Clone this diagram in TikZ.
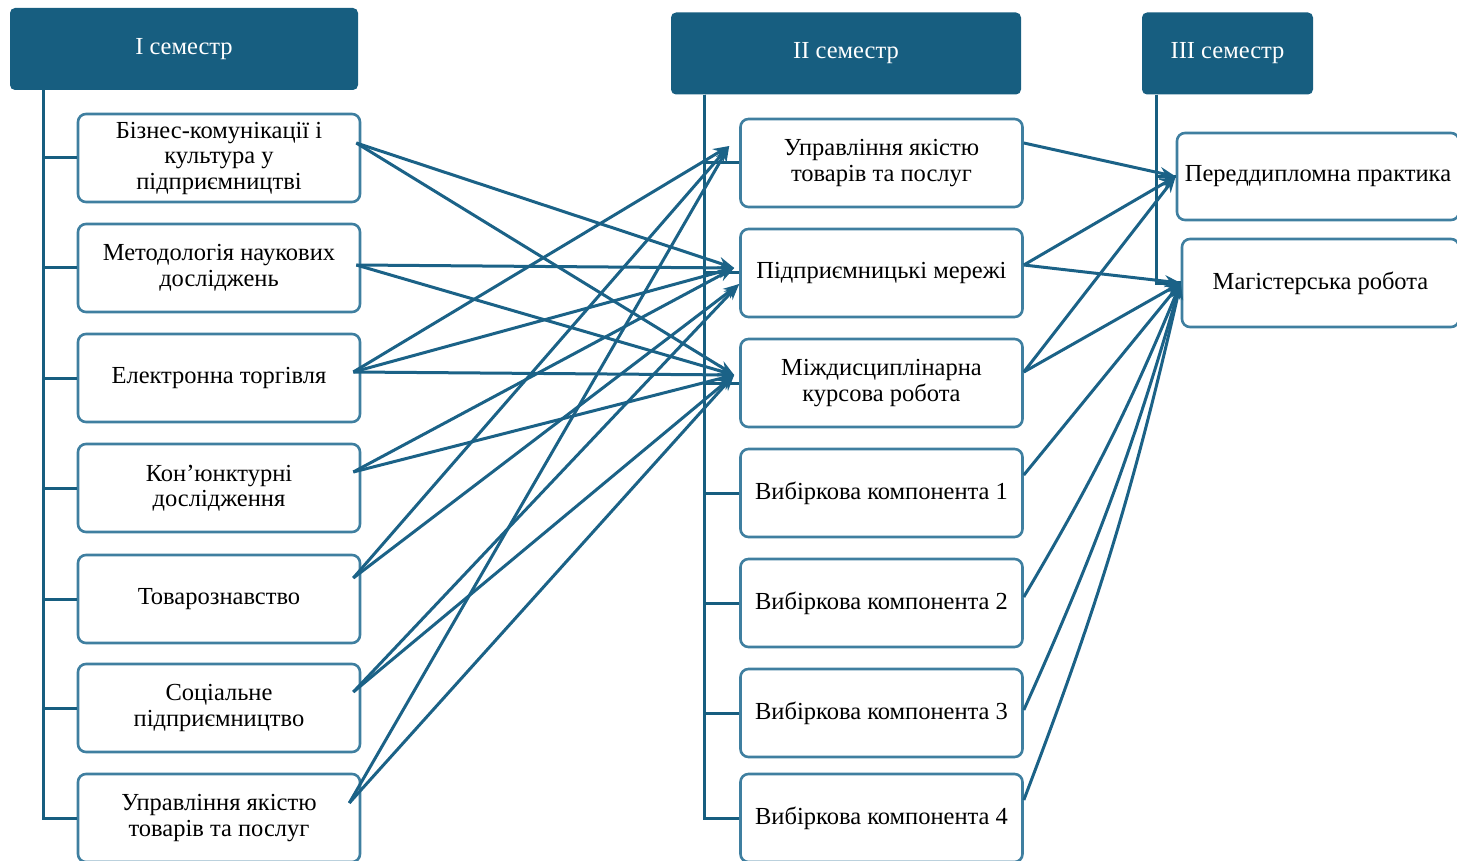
\documentclass[tikz,border=0pt]{standalone}
\usepackage{fontspec}
\setmainfont{Liberation Serif}
\usepackage{tikz}
\usepackage{xcolor}
\usetikzlibrary{positioning, arrows.meta}

\definecolor{semblue}{HTML}{175E80}
\definecolor{boxblue}{HTML}{3F7FA0}
\definecolor{linkblue}{HTML}{1B6287}

\begin{document}
\begin{tikzpicture}[x=1pt, y=-1pt,
        head/.style={rectangle, rounded corners=5pt, fill=semblue, text=white, font=\fontsize{24.5}{26}\selectfont, minimum height=82pt, inner sep=0pt},
        subj/.style={rectangle, rounded corners=8pt, draw=boxblue, line width=2.6pt, fill=white, align=center, font=\fontsize{24.5}{25.5}\selectfont, minimum width=282pt, minimum height=88pt, inner sep=0pt},
        tree/.style={draw=semblue, line width=3pt},
        link/.style={draw=linkblue, line width=3pt, -{Stealth[length=16pt, width=12pt]}}]
            \useasboundingbox (0, 0) rectangle (1457, 861);

            % semester headers
            \node[head, minimum width=348pt] (h1) at (184, 49) {І семестр};
            \node[head, minimum width=350pt] (h2) at (846, 53.5) {ІІ семестр};
            \node[head, minimum width=171pt] (h3) at (1227.5, 53.5) {ІІІ семестр};

            % first semester
            \node[subj] (l1) at (219, 158) {Бізнес-комунікації і\\культура у\\підприємництві};
            \node[subj] (l2) at (219, 268) {Методологія наукових\\досліджень};
            \node[subj] (l3) at (219, 378) {Електронна торгівля};
            \node[subj] (l4) at (219, 488) {Кон’юнктурні\\дослідження};
            \node[subj] (l5) at (219, 599) {Товарознавство};
            \node[subj] (l6) at (219, 708) {Соціальне\\підприємництво};
            \node[subj] (l7) at (219, 818) {Управління якістю\\товарів та послуг};

            % second semester
            \node[subj] (m1) at (881.5, 163) {Управління якістю\\товарів та послуг};
            \node[subj] (m2) at (881.5, 273) {Підприємницькі мережі};
            \node[subj] (m3) at (881.5, 383) {Міждисциплінарна\\курсова робота};
            \node[subj] (m4) at (881.5, 493) {Вибіркова компонента 1};
            \node[subj] (m5) at (881.5, 603) {Вибіркова компонента 2};
            \node[subj] (m6) at (881.5, 713) {Вибіркова компонента 3};
            \node[subj] (m7) at (881.5, 818) {Вибіркова компонента 4};

            % third semester
            \node[subj, minimum width=282pt, minimum height=87pt] (r1) at (1318, 176.5) {Переддипломна практика};
            \node[subj, minimum width=277pt] (r2) at (1320.5, 283) {Магістерська робота};

            % trunks
            \foreach \i in {1,...,7} {
                \draw[tree] ([xshift=34pt]h1.south west) |- (l\i.west);
                \draw[tree] ([xshift=34pt]h2.south west) |- (m\i.west);
            }
            \draw[tree] ([xshift=15pt]h3.south west) |- (r1.west);
            \draw[tree] ([xshift=15pt]h3.south west) |- (r2.west);

            % arrow ends
            \coordinate (s1) at ([xshift=-5pt, yshift=15pt]l1.east);
            \coordinate (s2) at ([xshift=-5pt, yshift=3pt]l2.east);
            \coordinate (s3) at ([xshift=-8pt, yshift=6pt]l3.east);
            \coordinate (s4) at ([xshift=-8pt, yshift=16pt]l4.east);
            \coordinate (s5) at ([xshift=-8pt, yshift=21pt]l5.east);
            \coordinate (s6) at ([xshift=-8pt, yshift=16pt]l6.east);
            \coordinate (s7) at ([xshift=-12pt, yshift=15pt]l7.east);
            \coordinate (t1) at ([xshift=-10pt, yshift=17pt]m1.west);
            \coordinate (t2) at ([xshift=-5pt, yshift=5pt]m2.west);
            \coordinate (t2b) at ([yshift=-11pt]m2.west);
            \coordinate (t3) at ([xshift=-5pt, yshift=8pt]m3.west);
            \coordinate (u1) at ([yshift=20pt]m1.east);
            \coordinate (u2) at ([yshift=8pt]m2.east);
            \coordinate (u3) at ([yshift=11pt]m3.east);
            \coordinate (u4) at ([yshift=18pt]m4.east);
            \coordinate (u5) at ([yshift=6pt]m5.east);
            \coordinate (u6) at ([yshift=3pt]m6.east);
            \coordinate (u7) at ([yshift=18pt]m7.east);

            \foreach \a/\b in {s1/t2, s1/t3, s2/t2, s2/t3, s3/t1, s3/t2, s3/t3, s4/t2, s4/t3,
                               s5/t1, s5/t2b, s6/t2b, s6/t3, s7/t1, s7/t3}
                \draw[link] (\a) -- (\b);

            \foreach \a/\b in {u1/r1.west, u2/r1.west, u2/r2.west, u3/r1.west, u3/r2.west, u4/r2.west}
                \draw[link] (\a) -- (\b);
            \foreach \a in {u5, u6, u7}
                \draw[link] (\a) to[bend right=4] (r2.west);
\end{tikzpicture}
\end{document}
